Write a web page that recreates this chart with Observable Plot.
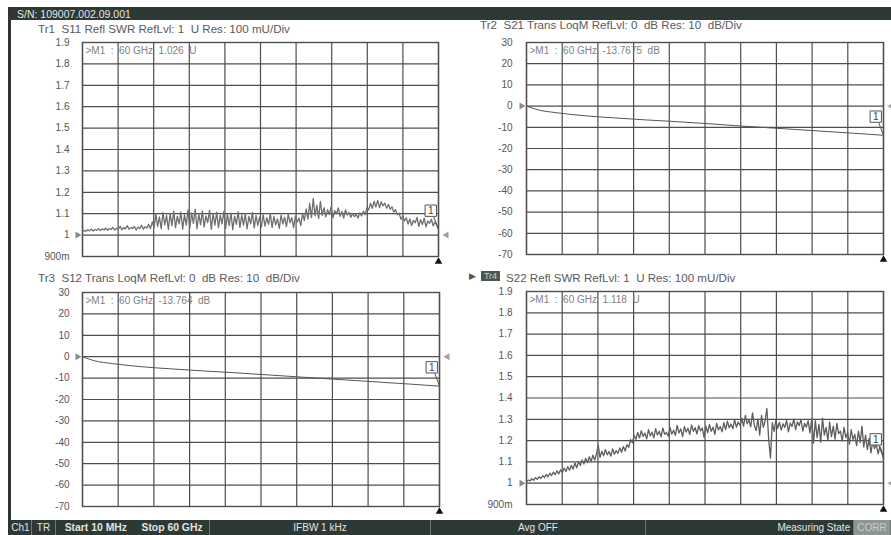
<!DOCTYPE html>
<html>
<head>
<meta charset="utf-8">
<script src="https://cdn.jsdelivr.net/npm/d3@7"></script>
<script src="https://cdn.jsdelivr.net/npm/@observablehq/plot@0.6"></script>
<style>
  html, body { margin: 0; padding: 0; background: #fff; }
  #screen { position: relative; width: 891px; height: 535px; overflow: hidden; background: #fff;
            font-family: "Liberation Sans", Arial, sans-serif; }
  .abs { position: absolute; white-space: pre; line-height: 1; }
  .title { font-size: 11.6px; color: #5a5a5a; }
  .bar { background: #2d3935; }
  .seg { position: absolute; top: 0; height: 15px; line-height: 15px; font-size: 10px; color: #e4e4e4;
         box-sizing: border-box; border-right: 1px solid #6d7874; white-space: pre; }
</style>
</head>
<body>
<div id="screen"></div>
<script>
// Sweep settings (channel 1)
const sweepStartGHz = 0.01;
const sweepStopGHz = 60;

// Tr1: S11 reflection, SWR (U), one value per sweep point
const s11Swr = [
  1.015, 1.022, 1.018, 1.025, 1.020, 1.028, 1.019, 1.026, 1.022, 1.030,
  1.021, 1.029, 1.024, 1.033, 1.022, 1.031, 1.026, 1.036, 1.024, 1.032,
  1.028, 1.041, 1.025, 1.035, 1.029, 1.044, 1.027, 1.036, 1.031, 1.040,
  1.024, 1.038, 1.030, 1.046, 1.028, 1.039, 1.033, 1.050, 1.030,
  1.062, 1.035, 1.098, 1.041, 1.085, 1.030, 1.105, 1.048, 1.092, 1.026, 1.101,
  1.044, 1.112, 1.035, 1.088, 1.052, 1.108, 1.028, 1.095, 1.047, 1.118,
  1.033, 1.104, 1.055, 1.121, 1.030, 1.097, 1.049, 1.113, 1.038, 1.090,
  1.058, 1.116, 1.027, 1.101, 1.046, 1.107, 1.035, 1.092, 1.052, 1.111,
  1.031, 1.098, 1.044, 1.103, 1.025, 1.089, 1.050, 1.109, 1.036, 1.094,
  1.047, 1.100, 1.029, 1.087, 1.053, 1.106, 1.034, 1.091, 1.045, 1.084, 1.038,
  1.095, 1.042, 1.081, 1.050, 1.099, 1.036, 1.088, 1.048, 1.076, 1.031,
  1.093, 1.052, 1.084, 1.040, 1.097, 1.057, 1.082, 1.035, 1.090, 1.061, 1.079, 1.044,
  1.101, 1.068, 1.122, 1.075, 1.148, 1.082, 1.171, 1.090, 1.139, 1.078, 1.158,
  1.092, 1.128, 1.085, 1.119, 1.096, 1.133, 1.081, 1.114, 1.100, 1.127, 1.088, 1.110, 1.079, 1.118, 1.094, 1.106, 1.083,
  1.101, 1.086, 1.097, 1.080, 1.104, 1.089, 1.112, 1.095,
  1.128, 1.118, 1.149, 1.125, 1.158, 1.131, 1.162, 1.128, 1.155, 1.137, 1.149, 1.126, 1.143, 1.121,
  1.132, 1.108, 1.119, 1.095, 1.102, 1.074, 1.089, 1.066,
  1.081, 1.052, 1.076, 1.045, 1.069, 1.058, 1.083, 1.041, 1.072, 1.050,
  1.079, 1.038, 1.066, 1.055, 1.074, 1.043, 1.061, 1.048, 1.026
];

// Tr4: S22 reflection, SWR (U)
const s22Swr = [
  1.008, 1.015, 1.011, 1.021, 1.014, 1.026, 1.018, 1.030, 1.022, 1.035,
  1.027, 1.041, 1.030, 1.047, 1.036, 1.052, 1.040, 1.058, 1.044, 1.063,
  1.050, 1.071, 1.055, 1.078, 1.061, 1.084, 1.066, 1.095, 1.072, 1.101,
  1.083, 1.109, 1.090, 1.117, 1.096, 1.124, 1.101, 1.132, 1.108, 1.138,
  1.178, 1.121, 1.150, 1.129, 1.158, 1.133, 1.149, 1.127, 1.161, 1.136,
  1.153, 1.140, 1.166, 1.145, 1.172, 1.151, 1.181, 1.168, 1.205, 1.190,
  1.224, 1.206, 1.238, 1.212, 1.247, 1.219, 1.235, 1.208, 1.251, 1.222,
  1.240, 1.213, 1.256, 1.226, 1.244, 1.218, 1.259, 1.229, 1.238, 1.221,
  1.262, 1.230, 1.249, 1.225, 1.271, 1.236, 1.255, 1.219, 1.266, 1.240,
  1.258, 1.228, 1.274, 1.243, 1.261, 1.231, 1.270, 1.246, 1.259, 1.215,
  1.268, 1.237, 1.276, 1.244, 1.263, 1.229, 1.281, 1.250, 1.266, 1.241,
  1.284, 1.252, 1.291, 1.260, 1.278, 1.255, 1.298, 1.263, 1.287, 1.271,
  1.305, 1.268, 1.318, 1.279, 1.296, 1.265, 1.330, 1.272, 1.247, 1.301,
  1.226, 1.318, 1.262, 1.292, 1.351, 1.205, 1.118, 1.284, 1.243, 1.296,
  1.258, 1.287, 1.249, 1.279, 1.262, 1.295, 1.241, 1.283, 1.266, 1.301,
  1.252, 1.288, 1.270, 1.299, 1.245, 1.281, 1.263, 1.293, 1.236, 1.302,
  1.188, 1.294, 1.214, 1.276, 1.193, 1.305, 1.226, 1.262, 1.201, 1.287,
  1.219, 1.268, 1.207, 1.281, 1.233, 1.245, 1.198, 1.262, 1.214, 1.238,
  1.183, 1.251, 1.205, 1.229, 1.176, 1.244, 1.192, 1.268, 1.170, 1.226,
  1.158, 1.211, 1.142, 1.196, 1.163, 1.184, 1.138, 1.172, 1.149, 1.118
];

// Tr2: S21 transmission, log magnitude (dB)
const s21FreqGHz = [0.01, 2, 5, 10, 15, 20, 25, 30, 35, 40, 45, 50, 55, 60];
const s21Db = [0, -1.8, -3.1, -4.6, -5.6, -6.5, -7.3, -8.2, -9.2, -10.1, -11.0, -11.9, -12.8, -13.7675];

// Tr3: S12 transmission, log magnitude (dB)
const s12FreqGHz = [0.01, 2, 5, 10, 15, 20, 25, 30, 35, 40, 45, 50, 55, 60];
const s12Db = [0, -1.9, -3.2, -4.7, -5.7, -6.6, -7.4, -8.3, -9.2, -10.1, -11.0, -11.9, -12.8, -13.764];

// Scale divisions
const swrTicks = [0.9, 1.0, 1.1, 1.2, 1.3, 1.4, 1.5, 1.6, 1.7, 1.8, 1.9];
const swrTickLabels = ["900m", "1", "1.1", "1.2", "1.3", "1.4", "1.5", "1.6", "1.7", "1.8", "1.9"];
const dbTicks = [-70, -60, -50, -40, -30, -20, -10, 0, 10, 20, 30];
const dbTickLabels = ["-70", "-60", "-50", "-40", "-30", "-20", "-10", "0", "10", "20", "30"];

// Header texts
const serialText = "S/N: 109007.002.09.001";
const traceTitles = [
  "Tr1  S11 Refl SWR RefLvl: 1  U Res: 100 mU/Div",
  "Tr2  S21 Trans LoqM RefLvl: 0  dB Res: 10  dB/Div",
  "Tr3  S12 Trans LoqM RefLvl: 0  dB Res: 10  dB/Div",
  "S22 Refl SWR RefLvl: 1  U Res: 100 mU/Div"
];

const screen = document.getElementById("screen");
const gridColor = "#4e4e4e";
const fontStack = '"Liberation Sans", Arial, sans-serif';

function sweepPoints(values) {
  const n = values.length;
  return values.map((v, i) => ({f: sweepStartGHz + i * (sweepStopGHz - sweepStartGHz) / (n - 1), v}));
}
function pairPoints(freqs, values) {
  return freqs.map((f, i) => ({f, v: values[i]}));
}

const xDivisions = d3.range(11).map(i => sweepStartGHz + i * (sweepStopGHz - sweepStartGHz) / 10);

function addPanel({frame, data, ticks, labels, refLevel, unit, curve, stroke, width, padding}) {
  const ml = 62, mr = 12, mt = 8, mb = 14;
  const w = frame.r - frame.l, h = frame.b - frame.t;
  const domain = [ticks[0], ticks[ticks.length - 1]];
  const div = (domain[1] - domain[0]) / 10;
  const label = d => labels[ticks.findIndex(t => Math.abs(t - d) < 1e-9)];
  const end = data[data.length - 1];
  const nb = "\u00a0";
  const readout = `>M1${nb}${nb}:${nb}${nb}${sweepStopGHz}${nb}GHz${nb}${nb}${end.v}${nb}${nb}${unit}`;
  const boxAt = {f: sweepStopGHz - 1.3, v: end.v + 0.88 * div};

  const chart = Plot.plot({
    width: w + ml + mr, height: h + mt + mb,
    marginLeft: ml, marginRight: mr, marginTop: mt, marginBottom: mb,
    x: {domain: [sweepStartGHz, sweepStopGHz], axis: null},
    y: {domain, label: null},
    style: {background: "transparent", fontFamily: fontStack, overflow: "visible"},
    marks: [
      Plot.gridX(xDivisions, {stroke: gridColor, strokeOpacity: 1, strokeWidth: 1.2}),
      Plot.gridY(ticks, {stroke: gridColor, strokeOpacity: 1, strokeWidth: 1.2}),
      Plot.frame({stroke: gridColor, strokeWidth: 1.4}),
      Plot.axisY(ticks, {tickSize: 0, tickPadding: padding, tickFormat: label, label: null,
                         fontSize: 10, color: "#555"}),
      Plot.text([readout], {frameAnchor: "top-left", dx: 3, dy: 4, lineAnchor: "top", textAnchor: "start",
                            fontSize: 10, fill: "#808080", text: d => d}),
      Plot.line(data, {x: "f", y: "v", stroke, strokeWidth: width, curve}),
      // reference level pointers
      Plot.dot([{f: sweepStartGHz, v: refLevel}], {x: "f", y: "v", symbol: "triangle", rotate: 90,
                                                    r: 2.6, fill: "#8a8a8a", dx: -5}),
      Plot.dot([{f: sweepStopGHz, v: refLevel}], {x: "f", y: "v", symbol: "triangle", rotate: -90,
                                                   r: 2.6, fill: "#a0a0a0", dx: 8}),
      // marker stimulus pointer
      Plot.dot([{f: sweepStopGHz, v: domain[0]}], {x: "f", y: "v", symbol: "triangle",
                                                    r: 2.8, fill: "#111", dy: 5}),
      // marker 1 flag
      Plot.link([{f: sweepStopGHz, v: end.v}], {x1: d => d.f - 0.8, y1: () => boxAt.v - 0.28 * div,
                                                 x2: "f", y2: "v", stroke: "#555", strokeWidth: 1}),
      Plot.dot([boxAt], {x: "f", y: "v", symbol: "square", r: 6.4, fill: "#fff", stroke: "#555", strokeWidth: 1}),
      Plot.text([boxAt], {x: "f", y: "v", text: () => "1", fontSize: 10, fill: "#444"})
    ]
  });
  chart.style.position = "absolute";
  chart.style.left = (frame.l - ml) + "px";
  chart.style.top = (frame.t - mt) + "px";
  screen.append(chart);
}

function addDiv(cls, css, text) {
  const el = document.createElement("div");
  el.className = cls;
  Object.assign(el.style, css);
  if (text != null) el.textContent = text;
  screen.append(el);
  return el;
}

// Window chrome
addDiv("abs bar", {left: "8px", top: "7px", width: "883px", height: "13px"});
addDiv("abs", {left: "17px", top: "9px", fontSize: "10.5px", color: "#e6e6e6"}, serialText);
addDiv("abs", {left: "8px", top: "8px", width: "3px", height: "527px", background: "#333"});

// Trace titles
addDiv("abs title", {left: "38px", top: "23px"}, traceTitles[0]);
addDiv("abs title", {left: "480px", top: "19px"}, traceTitles[1]);
addDiv("abs title", {left: "38px", top: "272px"}, traceTitles[2]);
addDiv("abs title", {left: "469px", top: "272px", fontSize: "9px", color: "#555"}, "\u25B6");
addDiv("abs", {left: "481px", top: "271px", width: "19px", height: "10px", background: "#4a5753",
               color: "#c8d0cc", fontSize: "9px", lineHeight: "10px", textAlign: "center"}, "Tr4");
addDiv("abs title", {left: "506px", top: "272px"}, traceTitles[3]);

// Diagrams
addPanel({frame: {l: 82, t: 42, r: 438, b: 256}, data: sweepPoints(s11Swr), ticks: swrTicks,
          labels: swrTickLabels, refLevel: 1, unit: "U", curve: "linear", stroke: "#6e6e6e", width: 1.3, padding: 13});
addPanel({frame: {l: 526, t: 42, r: 883, b: 254}, data: pairPoints(s21FreqGHz, s21Db), ticks: dbTicks,
          labels: dbTickLabels, refLevel: 0, unit: "dB", curve: "monotone-x", stroke: "#555", width: 1, padding: 14});
addPanel({frame: {l: 82, t: 292, r: 439, b: 506}, data: pairPoints(s12FreqGHz, s12Db), ticks: dbTicks,
          labels: dbTickLabels, refLevel: 0, unit: "dB", curve: "monotone-x", stroke: "#555", width: 1, padding: 13});
addPanel({frame: {l: 526, t: 291, r: 883, b: 504}, data: sweepPoints(s22Swr), ticks: swrTicks,
          labels: swrTickLabels, refLevel: 1, unit: "U", curve: "linear", stroke: "#5e5e5e", width: 1.3, padding: 14});

// Status bar
const status = addDiv("abs bar", {left: "10px", top: "520px", width: "881px", height: "15px"});
const segs = [
  {l: 0, w: 22, t: "Ch1", a: "center"},
  {l: 22, w: 24, t: "TR", a: "center"},
  {l: 46, w: 154, t: "   Start 10 MHz     Stop 60 GHz", a: "left", b: true},
  {l: 200, w: 221, t: "IFBW 1 kHz", a: "center"},
  {l: 421, w: 215, t: "Avg OFF", a: "center"},
  {l: 636, w: 208, t: "Measuring State ", a: "right"},
  {l: 844, w: 37, t: "CORR", a: "center", bg: "#8e9692", c: "#c9cecb"}
];
for (const s of segs) {
  const el = document.createElement("div");
  el.className = "seg";
  Object.assign(el.style, {left: s.l + "px", width: s.w + "px", textAlign: s.a,
                           fontWeight: s.b ? "bold" : "normal", fontFamily: fontStack,
                           fontSize: s.b ? "10.4px" : "10px"});
  if (s.bg) { el.style.background = s.bg; el.style.color = s.c; }
  el.textContent = s.t;
  status.append(el);
}
</script>
</body>
</html>
